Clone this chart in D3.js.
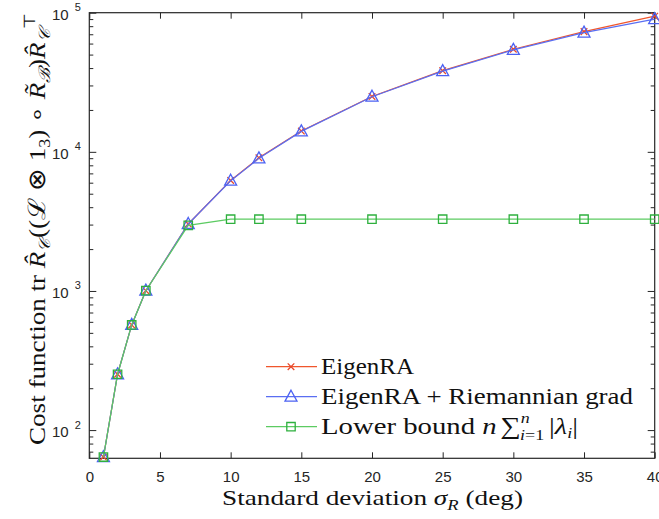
<!DOCTYPE html>
<html>
<head>
<meta charset="utf-8">
<script src="https://cdn.jsdelivr.net/npm/d3@7"></script>
<style>
  body { margin: 0; background: #fff; }
  svg { display: block; }
</style>
</head>
<body>
<div id="chart"></div>
<script>
// data
const sigma = [1, 2, 3, 4, 7, 10, 12, 15, 20, 25, 30, 35, 40];
const eigenRA = [64, 252, 570, 1005, 3030, 6230, 9050, 14100, 25000, 38300, 54600, 73100, 94400];
const eigenRAGrad = [64, 252, 570, 1005, 3030, 6200, 8980, 14030, 24900, 38000, 54000, 71900, 89800];
const lowerBound = [64, 252, 570, 1005, 2960, 3280, 3280, 3280, 3280, 3280, 3280, 3280, 3280];
const xTicks = [0, 5, 10, 15, 20, 25, 30, 35, 40];
const yMajor = [100, 1000, 10000, 100000];
const yExp = ['2', '3', '4', '5'];

const w = 659, h = 519;
const padL = 89.3, padR = 654.7, padT = 12.7, padB = 458.3;
const axisCol = '#262626';

const svg = d3.select('#chart').append('svg')
  .attr('width', w).attr('height', h);

const x = d3.scaleLinear().domain([0, 40]).range([padL, padR]);
const y = d3.scaleLog().domain([62.7, 1e5]).range([padB, padT]);

// minor ticks for the log axis
const yMinor = [];
[10, 100, 1000, 10000].forEach(d => {
  for (let k = 2; k <= 9; k++) {
    const v = d * k;
    if (v >= 62.7 && v <= 1e5) yMinor.push(v);
  }
});

// axes, ticks inside like matlab
const styleAxis = g => {
  g.select('.domain').remove();
  g.selectAll('line').attr('stroke', axisCol);
};

svg.append('g')
  .attr('transform', `translate(0,${padB})`)
  .call(d3.axisBottom(x).tickValues(xTicks).tickSize(-6).tickPadding(13).tickFormat(d3.format('d')))
  .call(styleAxis)
  .call(g => g.selectAll('text')
    .attr('font-family', 'Liberation Sans, Arial, sans-serif')
    .attr('font-size', 15).attr('fill', axisCol));

svg.append('g')
  .attr('transform', `translate(0,${padT})`)
  .call(d3.axisTop(x).tickValues(xTicks).tickSize(-6).tickFormat(''))
  .call(styleAxis);

svg.append('g')
  .attr('transform', `translate(${padL},0)`)
  .call(d3.axisLeft(y).tickValues(yMajor).tickSize(-7).tickFormat(''))
  .call(styleAxis);
svg.append('g')
  .attr('transform', `translate(${padL},0)`)
  .call(d3.axisLeft(y).tickValues(yMinor).tickSize(-4).tickFormat(''))
  .call(styleAxis);
svg.append('g')
  .attr('transform', `translate(${padR},0)`)
  .call(d3.axisRight(y).tickValues(yMajor).tickSize(-7).tickFormat(''))
  .call(styleAxis);
svg.append('g')
  .attr('transform', `translate(${padR},0)`)
  .call(d3.axisRight(y).tickValues(yMinor).tickSize(-4).tickFormat(''))
  .call(styleAxis);

// y tick labels 10^k
const yLab = svg.append('g')
  .attr('font-family', 'Liberation Sans, Arial, sans-serif')
  .attr('fill', axisCol);
yMajor.forEach((v, i) => {
  const t = yLab.append('text')
    .attr('x', 52).attr('y', y(v) + 7)
    .attr('font-size', 15);
  t.append('tspan').text('10');
  t.append('tspan').attr('dx', 6).attr('dy', -8.5).attr('font-size', 11).text(yExp[i]);
});

// box
svg.append('rect')
  .attr('x', padL).attr('y', padT)
  .attr('width', padR - padL).attr('height', padB - padT)
  .attr('fill', 'none').attr('stroke', axisCol).attr('stroke-width', 1.2);

// series
const series = [
  { name: 'EigenRA', values: eigenRA, line: '#f0562c', mark: '#e8482a', shape: 'x' },
  { name: 'grad', values: eigenRAGrad, line: '#5a6ef2', mark: '#4c62f2', shape: 'tri' },
  { name: 'lower', values: lowerBound, line: '#5ccb62', mark: '#2eb03e', shape: 'sq' }
];

const shapes = {
  x: 'M-3.3,-3.3L3.3,3.3M-3.3,3.3L3.3,-3.3',
  tri: 'M0,-6.5L6,4.5L-6,4.5Z',
  sq: 'M-4.2,-4.2H4.2V4.2H-4.2Z'
};

const line = d3.line()
  .x((d, i) => x(sigma[i]))
  .y(d => y(d));

const plot = svg.append('g');
series.forEach(s => {
  plot.append('path')
    .datum(s.values)
    .attr('d', line)
    .attr('fill', 'none')
    .attr('stroke', s.line)
    .attr('stroke-width', 1.2);
  plot.append('g').selectAll('path')
    .data(s.values)
    .enter()
    .append('path')
    .attr('transform', (d, i) => `translate(${x(sigma[i])},${y(d)})`)
    .attr('d', shapes[s.shape])
    .attr('fill', 'none')
    .attr('stroke', s.mark)
    .attr('stroke-width', 1.3);
});

// legend (latex-ish text, stretched to the reference widths)
const serif = 'Liberation Serif, Times New Roman, serif';
const legend = svg.append('g')
  .attr('font-family', serif).attr('font-size', 24).attr('fill', '#111');
const rows = [366.7, 396.7, 426.7];
series.forEach((s, i) => {
  legend.append('line')
    .attr('x1', 266).attr('x2', 317)
    .attr('y1', rows[i]).attr('y2', rows[i])
    .attr('stroke', s.line).attr('stroke-width', 1.2);
  legend.append('path')
    .attr('transform', `translate(291,${rows[i]})`)
    .attr('d', shapes[s.shape])
    .attr('fill', 'none').attr('stroke', s.mark).attr('stroke-width', 1.3);
});
legend.append('text').attr('x', 321).attr('y', rows[0] + 7)
  .attr('textLength', 93).attr('lengthAdjust', 'spacingAndGlyphs')
  .text('EigenRA');
legend.append('text').attr('x', 321).attr('y', rows[1] + 7)
  .attr('textLength', 312).attr('lengthAdjust', 'spacingAndGlyphs')
  .text('EigenRA + Riemannian grad');
const lb = legend.append('text').attr('x', 321).attr('y', rows[2] + 7)
  .attr('textLength', 257).attr('lengthAdjust', 'spacingAndGlyphs');
lb.append('tspan').text('Lower bound ');
lb.append('tspan').attr('font-style', 'italic').text('n');
lb.append('tspan').attr('dx', 3).text('∑');
lb.append('tspan').attr('font-size', 15).attr('font-style', 'italic').attr('dy', -11).text('n');
lb.append('tspan').attr('font-size', 15).attr('dx', -8).attr('dy', 17).html('<tspan font-style="italic">i</tspan>=1');
lb.append('tspan').attr('dy', -6).attr('dx', 4).text('|');
lb.append('tspan').attr('font-style', 'italic').text('λ');
lb.append('tspan').attr('font-size', 15).attr('font-style', 'italic').attr('dy', 4).text('i');
lb.append('tspan').attr('dy', -4).text('|');

// x label
const xl = svg.append('text')
  .attr('x', 222).attr('y', 505)
  .attr('textLength', 301).attr('lengthAdjust', 'spacingAndGlyphs')
  .attr('font-family', serif).attr('font-size', 22).attr('fill', '#111');
xl.append('tspan').text('Standard deviation ');
xl.append('tspan').attr('font-style', 'italic').text('σ');
xl.append('tspan').attr('font-size', 15).attr('font-style', 'italic').attr('dy', 5).text('R');
xl.append('tspan').attr('dy', -5).text(' (deg)');

// y label
const yl = svg.append('text')
  .attr('transform', 'translate(45,445) rotate(-90)')
  .attr('textLength', 432).attr('lengthAdjust', 'spacingAndGlyphs')
  .attr('font-family', serif).attr('font-size', 24).attr('fill', '#111');
yl.append('tspan').text('Cost function  tr ');
yl.append('tspan').attr('font-style', 'italic').text('R̂');
yl.append('tspan').attr('font-size', 16).attr('font-style', 'italic').attr('dy', 5).text('𝒞');
yl.append('tspan').attr('dy', -5).text('((');
yl.append('tspan').text('ℒ');
yl.append('tspan').text(' ⊗ 1');
yl.append('tspan').attr('font-size', 16).attr('dy', 5).text('3');
yl.append('tspan').attr('dy', -5).text(') ∘ ');
yl.append('tspan').attr('font-style', 'italic').text('R̃');
yl.append('tspan').attr('font-size', 16).attr('font-style', 'italic').attr('dy', 5).text('ℬ');
yl.append('tspan').attr('dy', -5).text(')');
yl.append('tspan').attr('font-style', 'italic').text('R̂');
yl.append('tspan').attr('font-size', 16).attr('font-style', 'italic').attr('dy', 5).text('𝒞');
yl.append('tspan').attr('font-size', 16).attr('dy', -15).text('⊤');
</script>
</body>
</html>
